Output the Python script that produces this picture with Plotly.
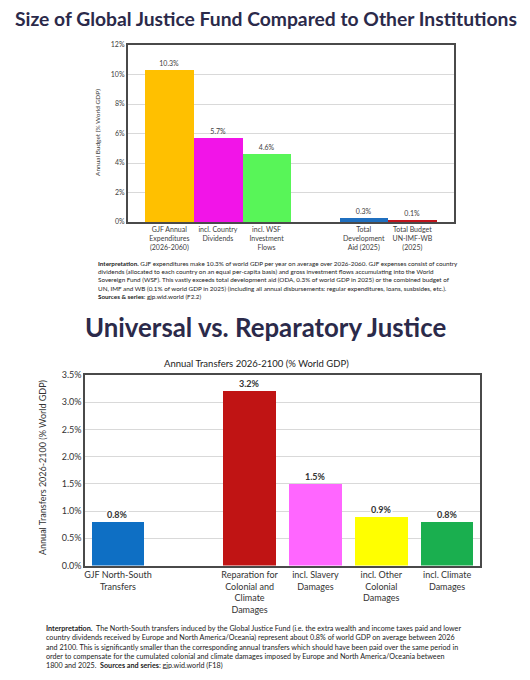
import plotly.graph_objects as go

# ---- Chart 1 data ----
cats1 = ["GJF Annual<br>Expenditures<br>(2026-2060)", "incl. Country<br>Dividends",
         "incl. WSF<br>Investment<br>Flows", " ", "Total<br>Development<br>Aid (2025)",
         "Total Budget<br>UN-IMF-WB<br>(2025)"]
vals1 = [10.3, 5.7, 4.6, None, 0.3, 0.1]
colors1 = ["#FFC000", "#F214E8", "#58F558", "#FFFFFF", "#1F6FBF", "#C0141C"]
yticks1 = [0, 2, 4, 6, 8, 10, 12]

# ---- Chart 2 data ----
cats2 = ["GJF North-South<br>Transfers", "  ", "Reparation for<br>Colonial and<br>Climate<br>Damages",
         "incl. Slavery<br>Damages", "incl. Other<br>Colonial<br>Damages", "incl. Climate<br>Damages"]
vals2 = [0.8, None, 3.2, 1.5, 0.9, 0.8]
colors2 = ["#0E6FC4", "#FFFFFF", "#C01414", "#FF66FF", "#FFFF00", "#1AAF4F"]
yticks2 = [0, 0.5, 1.0, 1.5, 2.0, 2.5, 3.0, 3.5]

FONT = "Lato"
OFF = 8            # page body margin
W, H = 530 - 2 * OFF, 680 - 2 * OFF

def px(x):
    return (x - OFF) / W

def py(y):
    return 1 - (y - OFF) / H

fig = go.Figure()

fig.add_trace(go.Bar(
    x=cats1, y=vals1, marker=dict(color=colors1, line=dict(width=0)),
    text=[("" if v is None else f"{v:.1f}%") for v in vals1],
    textposition="outside", textfont=dict(family=FONT, size=7, color="#404040"),
    cliponaxis=False, xaxis="x", yaxis="y", showlegend=False, hoverinfo="skip"))

fig.add_trace(go.Bar(
    x=cats2, y=vals2, width=0.8, marker=dict(color=colors2, line=dict(width=0)),
    xaxis="x2", yaxis="y2", showlegend=False, hoverinfo="skip"))

axline = dict(showline=True, linecolor="#4a4a4a", linewidth=1.5, mirror=True, ticks="")

fig.update_layout(
    width=W, height=H, margin=dict(l=0, r=0, t=0, b=0, autoexpand=False),
    paper_bgcolor="white", plot_bgcolor="white",
    font=dict(family=FONT, color="#333333"),
    bargap=0,
    xaxis=dict(domain=[px(127.7), px(454)], anchor="y", type="category", automargin=False,
               categoryorder="array", categoryarray=cats1, range=[-0.857, 5.857],
               tickfont=dict(family=FONT, size=7, color="#404040"), showgrid=False, **axline),
    yaxis=dict(domain=[py(222), py(45)], anchor="x", range=[0, 12], tickvals=yticks1, automargin=False,
               ticktext=[f"{t}%" for t in yticks1], tickfont=dict(family=FONT, size=7, color="#404040"),
               showgrid=True, gridcolor="#d9d9d9", gridwidth=1, zeroline=False, **axline),
    xaxis2=dict(domain=[px(85), px(480)], anchor="y2", type="category", automargin=False,
                categoryorder="array", categoryarray=cats2, range=[-0.5, 5.5],
                tickfont=dict(family=FONT, size=9, color="#333333"), showgrid=False, **axline),
    yaxis2=dict(domain=[py(565.5), py(375)], anchor="x2", range=[0, 3.5], tickvals=yticks2, automargin=False,
                ticktext=[f"{t:.1f}%" for t in yticks2], tickfont=dict(family=FONT, size=9, color="#333333"),
                showgrid=True, gridcolor="#d9d9d9", gridwidth=1, zeroline=False, **axline),
)

ann = []
# value labels of chart 2 (white background interrupting gridlines)
for c, v in zip(cats2, vals2):
    if v is None:
        continue
    ann.append(dict(text=f"<b>{v:.1f}%</b>", x=c, y=v, xref="x2", yref="y2",
                    xanchor="center", yanchor="bottom", yshift=1, showarrow=False,
                    bgcolor="white", borderpad=0,
                    font=dict(family=FONT, size=9, color="#333333")))

ann.append(dict(text="<b>Size of Global Justice Fund Compared to Other Institutions</b>",
                x=px(13), y=py(19), xref="paper", yref="paper", xanchor="left", yanchor="middle",
                showarrow=False, font=dict(family=FONT, size=19.3, color="#2b2a4a")))
ann.append(dict(text="Annual Budget (% World GDP)", textangle=-90,
                x=px(97), y=py(133), xref="paper", yref="paper", xanchor="center", yanchor="middle",
                showarrow=False, font=dict(family=FONT, size=6.5, color="#404040")))
interp1 = ("<b>Interpretation.</b> GJF expenditures make 10.3% of world GDP per year on average over 2026-2060. GJF expenses consist of country<br>"
           "dividends (allocated to each country on an equal per-capita basis) and gross investment flows accumulating into the World<br>"
           "Sovereign Fund (WSF). This vastly exceeds total development aid (ODA, 0.3% of world GDP in 2025) or the combined budget of<br>"
           "UN, IMF and WB (0.1% of world GDP in 2025) (including all annual disbursements: regular expenditures, loans, susbsides, etc.).<br>"
           "<b>Sources &amp; series</b>: gjp.wid.world (F2.2)")
ann.append(dict(text=interp1, x=px(96), y=py(258), xref="paper", yref="paper", xanchor="left", yanchor="top",
                align="left", showarrow=False, font=dict(family=FONT, size=6.3, color="#222222")))
ann.append(dict(text="<b>Universal vs. Reparatory Justice</b>",
                x=px(265.5), y=py(327), xref="paper", yref="paper", xanchor="center", yanchor="middle",
                showarrow=False, font=dict(family=FONT, size=25.8, color="#2b2a4a")))
ann.append(dict(text="Annual Transfers 2026-2100 (% World GDP)",
                x=px(256), y=py(363), xref="paper", yref="paper", xanchor="center", yanchor="middle",
                showarrow=False, font=dict(family=FONT, size=9.5, color="#222222")))
ann.append(dict(text="Annual Transfers 2026-2100 (% World GDP)", textangle=-90,
                x=px(43), y=py(468), xref="paper", yref="paper", xanchor="center", yanchor="middle",
                showarrow=False, font=dict(family=FONT, size=9, color="#333333")))
interp2 = ("<b>Interpretation.</b>  The North-South transfers induced by the Global Justice Fund (i.e. the extra wealth and income taxes paid and lower<br>"
           "country dividends received by Europe and North America/Oceania) represent about 0.8% of world GDP on average between 2026<br>"
           "and 2100. This is significantly smaller than the corresponding annual transfers which should have been paid over the same period in<br>"
           "order to compensate for the cumulated colonial and climate damages imposed by Europe and North America/Oceania between<br>"
           "1800 and 2025.  <b>Sources and series</b>: gjp.wid.world (F18)")
ann.append(dict(text=interp2, x=px(44), y=py(622), xref="paper", yref="paper", xanchor="left", yanchor="top",
                align="left", showarrow=False, font=dict(family=FONT, size=7.2, color="#222222")))
fig.update_layout(annotations=ann)

fig.write_html("out.html")
